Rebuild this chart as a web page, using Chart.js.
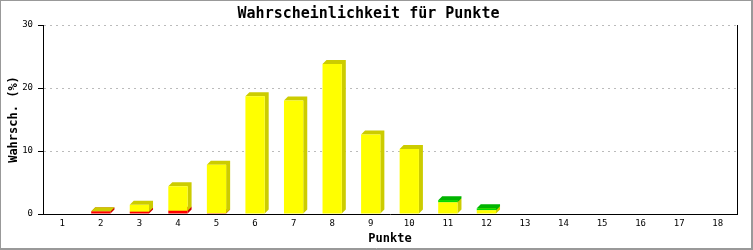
<!DOCTYPE html>
<html>
<head>
<meta charset="utf-8">
<script src="https://cdn.jsdelivr.net/npm/chart.js@4"></script>
<style>
  html, body { margin: 0; padding: 0; background: #fff; }
  #wrap { width: 753px; height: 250px; }
</style>
</head>
<body>
<div id="wrap"><canvas id="c" width="753" height="250"></canvas></div>
<script>
// ---- data ----
const categories = ['1','2','3','4','5','6','7','8','9','10','11','12','13','14','15','16','17','18'];
const redValues    = [0, 0.4, 0.35, 0.5, 0.1, 0, 0, 0, 0, 0, 0, 0, 0, 0, 0, 0, 0, 0];
const yellowValues = [0, 0.05, 1.1, 3.9, 7.7, 18.7, 18.0, 23.8, 12.6, 10.3, 1.85, 0.6, 0, 0, 0, 0, 0, 0];
const greenValues  = [0, 0, 0, 0, 0, 0, 0, 0, 0, 0, 0.35, 0.3, 0, 0, 0, 0, 0, 0];
const yTicks = [0, 10, 20, 30];
const chartTitle = 'Wahrscheinlichkeit für Punkte';
const xTitle = 'Punkte';
const yTitle = 'Wahrsch. (%)';

const DX = 4, DY = 4;
const MONO = "'DejaVu Sans Mono', 'Liberation Mono', monospace";

const extrude = {
  id: 'extrude',
  beforeDatasetsDraw(chart) {
    const ctx = chart.ctx;
    ctx.save();
    chart.data.datasets.forEach((ds, i) => {
      const meta = chart.getDatasetMeta(i);
      meta.data.forEach((el) => {
        const p = el.getProps(['x', 'y', 'base', 'width'], true);
        if (Math.abs(p.base - p.y) < 0.05) return;
        const l = p.x - p.width / 2, r = p.x + p.width / 2;
        const t = Math.min(p.y, p.base), b = Math.max(p.y, p.base);
        ctx.fillStyle = ds.sideColor;
        ctx.beginPath();
        ctx.moveTo(l, t);
        ctx.lineTo(l + DX, t - DY);
        ctx.lineTo(r + DX, t - DY);
        ctx.lineTo(r + DX, b - DY);
        ctx.lineTo(r, b);
        ctx.lineTo(r, t);
        ctx.closePath();
        ctx.fill();
      });
    });
    ctx.restore();
  }
};

const frame = {
  id: 'frame',
  beforeDraw(chart) {
    const ctx = chart.ctx;
    ctx.save();
    ctx.fillStyle = '#ffffff';
    ctx.fillRect(0, 0, chart.width, chart.height);
    ctx.restore();
  },
  afterDraw(chart) {
    const ctx = chart.ctx, a = chart.chartArea;
    ctx.save();
    // right border of plot
    ctx.strokeStyle = '#000';
    ctx.lineWidth = 1;
    ctx.beginPath();
    ctx.moveTo(Math.round(a.right) + 0.5, a.top);
    ctx.lineTo(Math.round(a.right) + 0.5, a.bottom);
    ctx.stroke();
    // outer frame
    ctx.strokeStyle = '#999999';
    ctx.lineWidth = 1;
    ctx.strokeRect(0.5, 0.5, chart.width - 1, chart.height - 1);
    ctx.beginPath();
    ctx.moveTo(chart.width - 1.5, 0);
    ctx.lineTo(chart.width - 1.5, chart.height);
    ctx.moveTo(0, chart.height - 1.5);
    ctx.lineTo(chart.width, chart.height - 1.5);
    ctx.stroke();
    ctx.restore();
  }
};

new Chart(document.getElementById('c'), {
  type: 'bar',
  data: {
    labels: categories,
    datasets: [
      { label: 'rot', data: redValues, backgroundColor: '#ff0000', sideColor: '#cc0000', stack: 's' },
      { label: 'gelb', data: yellowValues, backgroundColor: '#ffff00', sideColor: '#cccc00', stack: 's' },
      { label: 'grün', data: greenValues, backgroundColor: '#00dd00', sideColor: '#00b400', stack: 's' }
    ]
  },
  options: {
    responsive: false,
    animation: false,
    devicePixelRatio: 1,
    layout: { padding: { left: 0, right: 16, top: 0, bottom: 0 } },
    datasets: { bar: { barPercentage: 0.5, categoryPercentage: 1.0, borderWidth: 0 } },
    plugins: {
      legend: { display: false },
      tooltip: { enabled: false },
      title: {
        display: true,
        text: chartTitle,
        color: '#000',
        font: { family: MONO, size: 15, weight: 'bold', lineHeight: 1.2 },
        padding: { top: 5, bottom: 2 }
      }
    },
    scales: {
      x: {
        stacked: true,
        offset: true,
        grid: { display: false, drawTicks: false },
        border: { display: true, color: '#000', width: 1 },
        ticks: { color: '#000', font: { family: MONO, size: 9 }, padding: 4, maxRotation: 0, autoSkip: false },
        title: { display: true, text: xTitle, color: '#000', font: { family: MONO, size: 12, weight: 'bold', lineHeight: 1.2 }, padding: { top: 0, bottom: 4 } },
        afterFit(scale) { scale.height = 36; }
      },
      y: {
        stacked: true,
        min: 0,
        max: 30,
        afterBuildTicks(scale) { scale.ticks = yTicks.map(v => ({ value: v })); },
        grid: {
          color: (ctx) => ctx.tick && ctx.tick.value === 0 ? 'rgba(0,0,0,0)' : '#bbbbbb',
          lineWidth: 1,
          drawTicks: true,
          tickLength: 5,
          tickColor: '#000'
        },
        border: { display: true, color: '#000', width: 1, dash: [2, 4] },
        ticks: { color: '#000', font: { family: MONO, size: 9 }, padding: 5 },
        title: { display: true, text: yTitle, color: '#000', font: { family: MONO, size: 12, weight: 'bold', lineHeight: 1.2 }, padding: { top: 7, bottom: 0 } },
        afterFit(scale) { scale.width = 43; }
      }
    }
  },
  plugins: [extrude, frame]
});
</script>
</body>
</html>
